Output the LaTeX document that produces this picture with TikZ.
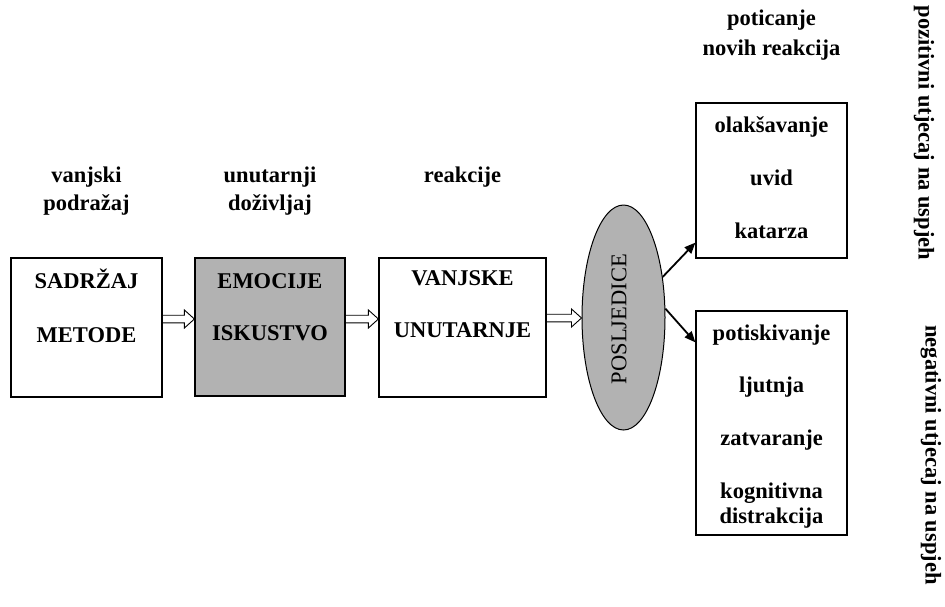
\documentclass[tikz,border=0pt]{standalone}
\usepackage{fontspec}
\setmainfont{Liberation Serif}
\usetikzlibrary{arrows.meta,shapes.geometric,calc}
\definecolor{boxgray}{RGB}{178,178,178}
\newcommand\hollowarrow[2]{%
  \draw[harrow] let \p1=(#1), \p2=(#2) in
    (\x1,{\y1+3.8pt}) -- ({\x2-10pt},{\y1+3.8pt}) -- ({\x2-10pt},{\y1+9pt})
    -- (\x2,\y1) -- ({\x2-10pt},{\y1-9pt}) -- ({\x2-10pt},{\y1-3.8pt}) -- (\x1,{\y1-3.8pt});}
\begin{document}
\begin{tikzpicture}[x=1pt,y=-1pt,
  every node/.style={font=\fontsize{22.5}{27}\selectfont\bfseries, inner sep=0pt},
  box/.style={draw, line width=1.2pt, rectangle, inner sep=0pt},
  txt/.style={anchor=base, align=center},
  harrow/.style={draw, line width=0.9pt, line join=miter},
  sharrow/.style={draw, line width=1.8pt, -{Triangle[length=11pt,width=9pt]}},
  sidelabel/.style={rotate=-90, anchor=center}]
\useasboundingbox (0,0) rectangle (945,606);

% boxes
\node[box, minimum width=151pt, minimum height=139pt] (b1) at (86.5,327.5) {};
\node[box, fill=boxgray, minimum width=150pt, minimum height=138pt] (b2) at (270,327) {};
\node[box, minimum width=167pt, minimum height=139pt] (b3) at (462.5,327.5) {};
\node[draw, line width=1pt, ellipse, fill=boxgray, minimum width=83pt, minimum height=225pt] (e) at (623.5,317.5) {};
\node[box, minimum width=151pt, minimum height=155pt] (tb) at (771.5,180.5) {};
\node[box, minimum width=151pt, minimum height=224pt] (bb) at (771.5,423) {};

% box texts
\node[txt] (t11) at (86.5,288.5) {SADRŽAJ};
\node[txt] (t12) at (86.5,342.5) {METODE};
\node[txt] (t21) at (270,288.5) {EMOCIJE};
\node[txt] (t22) at (270,340.5) {ISKUSTVO};
\node[txt] (t31) at (462.5,285.5) {VANJSKE};
\node[txt] (t32) at (462.5,337.5) {UNUTARNJE};
\node[rotate=90, font=\fontsize{22.5}{27}\selectfont\mdseries] (te) at (619,319) {POSLJEDICE};
\node[txt] (p1) at (771.5,132) {olakšavanje};
\node[txt] (p2) at (771.5,185) {uvid};
\node[txt] (p3) at (771.5,238) {katarza};
\node[txt] (n1) at (771.5,340) {potiskivanje};
\node[txt] (n2) at (771.5,392) {ljutnja};
\node[txt] (n3) at (771.5,445) {zatvaranje};
\node[txt] (n4) at (771.5,498) {kognitivna};
\node[txt] (n5) at (771.5,523) {distrakcija};

% header labels
\node[txt] (l11) at (86.5,182) {vanjski};
\node[txt] (l12) at (86.5,210) {podražaj};
\node[txt] (l21) at (270,182) {unutarnji};
\node[txt] (l22) at (270,210) {doživljaj};
\node[txt] (l3) at (462.5,182) {reakcije};
\node[txt] (l41) at (771.5,25) {poticanje};
\node[txt] (l42) at (771.5,55) {novih reakcija};

% side labels
\node[sidelabel] (sp) at (924,133) {pozitivni utjecaj na uspjeh};
\node[sidelabel] (sn) at (931,455) {negativni utjecaj na uspjeh};

% connectors
\hollowarrow{[yshift=8.5pt]b1.east}{[yshift=8.5pt]b2.west}
\hollowarrow{[yshift=8pt]b2.east}{[yshift=8pt]b3.west}
\hollowarrow{[yshift=9.5pt]b3.east}{e.west}
\draw[sharrow] (e.46) -- ([yshift=16pt]tb.south west);
\draw[sharrow] (e.12) -- ([yshift=-32pt]bb.north west);
\end{tikzpicture}
\end{document}
